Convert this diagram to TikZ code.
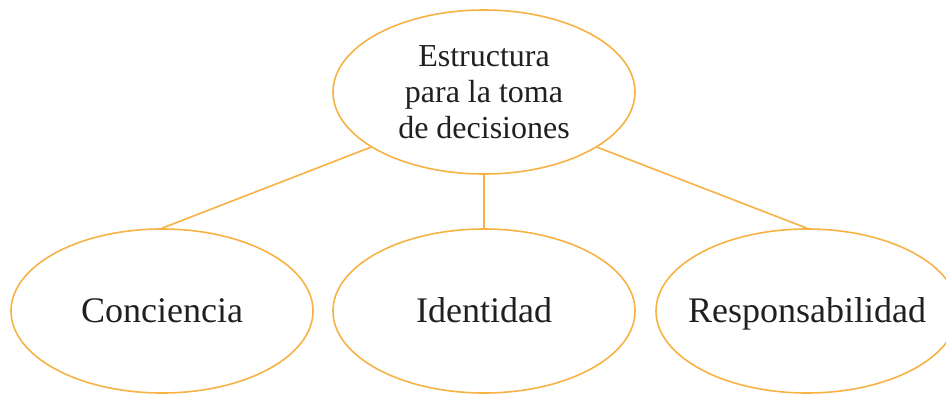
\documentclass[tikz,border=0pt]{standalone}
\usepackage{fontspec}
\setmainfont{Liberation Serif}
\usetikzlibrary{shapes.geometric}
\definecolor{oraline}{RGB}{247,178,67}
\definecolor{txt}{RGB}{35,31,32}
\begin{document}
\begin{tikzpicture}[x=1pt,y=-1pt,
  bubble/.style={ellipse, draw=oraline, line width=1.6pt, inner sep=0pt,
    minimum width=302pt, minimum height=164pt, text=txt},
  leaf/.style={bubble, font=\fontsize{36}{40}\selectfont, text width=0pt,
    align=center, text height=22pt, text depth=0pt},
  link/.style={draw=oraline, line width=1.6pt}]
\useasboundingbox (0,0) rectangle (946,394);
\clip (0,0) rectangle (946,394);
\node[bubble, align=center, font=\fontsize{32}{36}\selectfont] (top) at (484,92)
  {Estructura\\para la toma\\de decisiones};
\node[leaf] (con) at (162,311) {\makebox[0pt]{Conciencia}};
\node[leaf] (ide) at (484,311) {\makebox[0pt]{Identidad}};
\node[leaf] (res) at (807,311) {\makebox[0pt]{Responsabilidad}};
\draw[link] (top.206) -- (con.north);
\draw[link] (top.south) -- (ide.north);
\draw[link] (top.334) -- (res.north);
\end{tikzpicture}
\end{document}
